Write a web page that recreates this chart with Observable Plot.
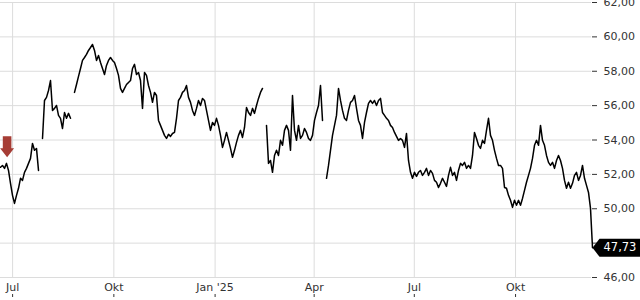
<!DOCTYPE html>
<html><head><meta charset="utf-8">
<script src="https://cdn.jsdelivr.net/npm/d3@7"></script>
<script src="https://cdn.jsdelivr.net/npm/@observablehq/plot@0.6"></script>
<style>html,body{margin:0;padding:0;background:#fff;}</style>
</head><body><div id="chart"></div>
<script>
// time window shown
const startDate = "2024-06-20";
const endDate = "2025-12-09";
// readings taken at regular spacing along the time axis (null = gap in line)
const closes = [
52.41,52.52,52.35,52.64,52.23,51.48,50.78,50.31,50.78,51.19,
51.77,51.65,52.12,52.35,52.64,52.93,53.80,53.40,53.51,52.23,
null,54.09,56.30,56.48,56.88,57.46,55.72,55.84,56.01,55.43,
55.26,54.67,55.60,55.26,55.55,55.26,null,56.77,57.23,57.70,
58.16,58.63,58.80,58.98,59.21,59.38,59.56,59.21,58.63,58.92,
58.51,58.16,57.81,58.34,58.63,58.80,58.63,58.51,58.16,57.76,
57.00,56.77,57.00,57.23,57.35,57.46,58.16,58.40,57.81,57.93,
57.46,55.84,57.93,57.76,57.17,56.77,56.19,56.77,56.59,55.14,
54.85,54.56,54.27,54.09,54.33,54.21,54.38,54.44,55.26,56.30,
56.48,56.77,56.88,57.17,56.48,56.19,55.72,55.43,55.84,56.30,
56.01,56.42,56.30,55.72,55.14,54.56,55.02,54.85,55.26,54.85,
54.27,53.57,53.98,54.44,53.98,53.51,52.99,53.40,53.86,54.27,
54.56,54.15,54.73,55.89,55.60,55.43,55.84,55.55,56.01,56.42,
56.77,57.00,null,54.85,52.64,52.81,52.12,53.10,53.40,53.10,
53.98,53.69,54.56,54.85,54.56,53.40,56.59,54.56,53.98,54.85,
54.09,54.27,54.67,54.44,54.09,53.98,54.27,55.14,55.60,56.01,
57.17,55.14,null,51.77,52.52,53.40,54.27,54.85,55.43,57.00,
56.30,55.72,55.26,55.14,55.72,56.19,56.30,56.59,55.84,55.14,
54.85,54.09,55.02,55.60,56.13,56.30,56.13,56.30,56.01,56.30,
56.42,55.60,55.43,55.26,55.14,54.85,54.73,54.44,54.21,53.98,
54.09,53.98,53.57,54.38,52.81,52.12,51.77,52.12,51.88,52.12,
52.23,51.94,52.12,52.35,51.94,52.23,52.06,51.65,51.54,51.24,
51.48,51.77,51.54,51.30,51.94,52.41,51.94,52.12,51.65,52.23,
52.64,52.52,52.70,52.35,52.52,52.35,53.10,54.44,54.09,53.69,
53.51,53.98,53.80,54.56,55.26,54.27,53.98,53.40,52.93,52.52,
52.52,52.35,51.24,51.19,50.78,50.49,50.08,50.49,50.20,50.49,
50.20,50.60,51.07,51.54,51.94,52.35,52.93,53.69,53.98,53.69,
54.85,53.98,53.69,53.10,52.70,52.52,52.70,52.35,52.81,53.10,
52.81,52.35,51.65,51.19,51.54,51.19,51.48,51.94,52.12,51.65,
51.94,52.52,51.77,51.36,50.95,50.02,47.73
];
const yTicks = [46, 48, 50, 52, 54, 56, 58, 60, 62];
const xTickDates = ["2024-07-01", "2024-10-01", "2025-01-01", "2025-04-01", "2025-07-01", "2025-10-01"];
const xTickLabels = ["Jul", "Okt", "Jan '25", "Apr", "Jul", "Okt"];
const signalDate = "2024-06-26";
const signalValue = 53.0;
const lastValue = 47.73;

const t0 = new Date(startDate).getTime();
const t1 = new Date(endDate).getTime();
const stepMs = (t1 - t0) / 591 * 2;
const series = closes.map((v, i) => ({date: new Date(t0 + i * stepMs), value: v}));
const last = series[series.length - 1];
const xTicks = xTickDates.map(d => new Date(d));
const fmt = v => v.toFixed(2).replace(".", ",");

const arrowShape = {
  draw(ctx, l) {
    ctx.moveTo(-4.3, 0);
    ctx.lineTo(-4.3, -l + 9);
    ctx.lineTo(-7, -l + 9);
    ctx.lineTo(0, -l);
    ctx.lineTo(7, -l + 9);
    ctx.lineTo(4.3, -l + 9);
    ctx.lineTo(4.3, 0);
    ctx.closePath();
  }
};
const tagSymbol = {
  draw(ctx) {
    ctx.moveTo(0, 0);
    ctx.lineTo(7, -9);
    ctx.lineTo(52, -9);
    ctx.lineTo(52, 9);
    ctx.lineTo(7, 9);
    ctx.closePath();
  }
};

const chart = Plot.plot({
  width: 640,
  height: 300,
  marginLeft: 0,
  marginRight: 49,
  marginTop: 2,
  marginBottom: 23,
  x: {type: "utc", domain: [new Date(startDate), new Date(endDate)]},
  y: {domain: [46, 62]},
  style: {fontFamily: "DejaVu Sans", fontSize: "11px", color: "#333", background: "#fff", overflow: "visible"},
  marks: [
    Plot.gridY(yTicks, {stroke: "#dcdcdc", strokeOpacity: 1}),
    Plot.gridX(xTicks, {stroke: "#dcdcdc", strokeOpacity: 1}),
    Plot.axisY(yTicks, {anchor: "right", tickSize: 5, tickPadding: 7, tickFormat: fmt, fontSize: 11, label: null, fill: "#333"}),
    Plot.axisX(xTicks, {anchor: "bottom", tickSize: 0, tickPadding: 6, tickFormat: (d, i) => xTickLabels[i], fontSize: 11, label: null, fill: "#333"}),
    Plot.axisX(xTicks, {anchor: "bottom", tickSize: 3, text: null, dy: 17, label: null, stroke: "#333"}),
    Plot.line(series, {x: "date", y: "value", stroke: "#000", strokeWidth: 1.5}),
    Plot.vector([{date: new Date(signalDate), value: signalValue}], {x: "date", y: "value", length: 21, rotate: 180, anchor: "end", shape: arrowShape, fill: "#a63d35", stroke: "none"}),
    Plot.dot([{date: last.date, value: lastValue}], {x: "date", y: "value", symbol: tagSymbol, fill: "#000", stroke: "none"}),
    Plot.text([{date: last.date, value: lastValue}], {x: "date", y: "value", text: d => fmt(d.value), dx: 11, textAnchor: "start", fill: "#fff", fontSize: 11.5})
  ]
});
document.getElementById("chart").appendChild(chart);
</script>
</body></html>
